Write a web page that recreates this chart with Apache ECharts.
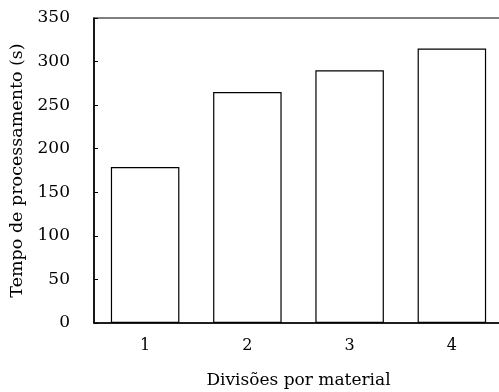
<!DOCTYPE html>
<html>
<head>
<meta charset="utf-8">
<script src="https://cdn.jsdelivr.net/npm/echarts@6/dist/echarts.min.js"></script>
<style>
  html, body { margin: 0; padding: 0; background: #fff; }
  #chart { width: 499px; height: 392px; }
</style>
</head>
<body>
<div id="chart"></div>
<script>
// Processing time per number of divisions per material
const divisions = ['1', '2', '3', '4'];
const processingTime = [179, 265, 290, 315];
const yTicks = { min: 0, max: 350, interval: 50 };

const font = 'DejaVu Serif';
const chart = echarts.init(document.getElementById('chart'));

chart.setOption({
  animation: false,
  backgroundColor: '#fff',
  grid: {
    left: 94, width: 409, top: 18, bottom: 69,
    outerBoundsMode: 'none',
    show: true, borderColor: '#000', borderWidth: 1.2, backgroundColor: 'transparent'
  },
  xAxis: {
    type: 'category',
    data: divisions,
    name: 'Divisões por material',
    nameLocation: 'middle',
    nameGap: 49,
    nameTextStyle: { fontFamily: font, fontSize: 17, color: '#000' },
    axisLine: { lineStyle: { color: '#000', width: 1.5 } },
    axisTick: { show: false },
    axisLabel: { fontFamily: font, fontSize: 16, color: '#000', margin: 15 }
  },
  yAxis: {
    type: 'value',
    min: yTicks.min, max: yTicks.max, interval: yTicks.interval,
    name: 'Tempo de processamento (s)',
    nameLocation: 'middle',
    nameGap: 64,
    nameTextStyle: { fontFamily: font, fontSize: 17.5, color: '#000' },
    axisLine: { show: true, lineStyle: { color: '#000', width: 1.5 } },
    axisTick: { show: true, inside: true, length: 4, lineStyle: { color: '#000' } },
    splitLine: { show: false },
    axisLabel: { fontFamily: font, fontSize: 17, color: '#000', margin: 24 }
  },
  series: [{
    type: 'bar',
    data: processingTime,
    barCategoryGap: '33%',
    itemStyle: { color: '#fff', borderColor: '#000', borderWidth: 1.2 }
  }]
});
</script>
</body>
</html>
